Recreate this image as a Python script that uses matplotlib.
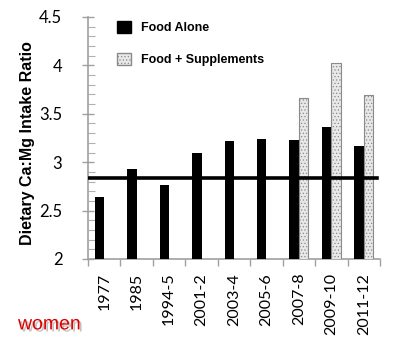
import matplotlib
matplotlib.use('Agg')
import matplotlib.pyplot as plt
import matplotlib.patheffects as pe
from matplotlib.patches import Patch
import numpy as np

years = ['1977', '1985', '1994-5', '2001-2', '2003-4', '2005-6', '2007-8', '2009-10', '2011-12']
food_alone = [2.64, 2.93, 2.76, 3.09, 3.22, 3.24, 3.23, 3.36, 3.17]
food_supp = [None, None, None, None, None, None, 3.66, 4.02, 3.69]
ref_ratio = 2.84

plt.rcParams['font.family'] = ['Liberation Sans', 'DejaVu Sans']
plt.rcParams['hatch.color'] = '#a0a0a0'
plt.rcParams['hatch.linewidth'] = 0.5

fig = plt.figure(figsize=(4.01, 3.6), dpi=100)
ax = fig.add_axes([0.2195, 0.2806, 0.728, 0.6722])

x = np.arange(len(years))
w = 0.29
ax.bar(x - w / 2, food_alone, width=w, color='black', label='Food Alone', zorder=3)
sx = [i for i, v in enumerate(food_supp) if v is not None]
sv = [v for v in food_supp if v is not None]
ax.bar(np.array(sx) + w / 2, sv, width=w, color='#e8e8e8', edgecolor='#8a8a8a',
       linewidth=0.8, hatch='.....', label='Food + Supplements', zorder=3)

ax.axhline(ref_ratio, color='black', linewidth=2.6, xmin=0, xmax=0.99, zorder=4)

ax.set_ylim(2, 4.5)
ax.set_xlim(-0.5, len(years) - 0.5)
ax.set_yticks([2, 2.5, 3, 3.5, 4, 4.5])
ax.set_yticklabels(['2', '2.5', '3', '3.5', '4', '4.5'], fontsize=12, family='Lato')
ax.set_yticks(np.arange(2, 4.5, 0.1), minor=True)
ax.tick_params(axis='y', which='major', direction='inout', length=9, color='#a0a0a0', width=1, pad=14)
ax.tick_params(axis='y', which='minor', direction='in', length=5, color='#b0b0b0', width=0.8)

ax.set_xticks(np.arange(-0.5, len(years), 1))
ax.set_xticklabels([])
ax.set_xticks(x, minor=True)
ax.set_xticklabels(years, minor=True, rotation=90, fontsize=11.5, family='Lato')
ax.tick_params(axis='x', which='major', direction='out', length=5, color='#a0a0a0', width=1)
ax.tick_params(axis='x', which='minor', length=0, pad=10)

for s in ['top', 'right']:
    ax.spines[s].set_visible(False)
for s in ['left', 'bottom']:
    ax.spines[s].set_color('#a0a0a0')
    ax.spines[s].set_linewidth(1.2)

ax.set_ylabel('Dietary Ca:Mg Intake Ratio', fontsize=11.5, fontweight='bold')
ax.yaxis.set_label_coords(-0.18, 0.48)

handles = [Patch(facecolor='black', edgecolor='black'),
           Patch(facecolor='#e8e8e8', edgecolor='#8a8a8a', hatch='.....')]
ax.legend(handles, ['Food Alone', 'Food + Supplements'], loc='upper left',
          bbox_to_anchor=(0.06, 1.03), frameon=False, handlelength=1.1, handleheight=1.1,
          labelspacing=1.5, prop={'weight': 'bold', 'size': 9})

fig.text(0.045, 0.085, 'women', color='#dd0000', fontsize=14,
         path_effects=[pe.withSimplePatchShadow(offset=(1.5, -1.5), shadow_rgbFace='#999999', alpha=0.6)])

fig.savefig('out.png', dpi=100)
